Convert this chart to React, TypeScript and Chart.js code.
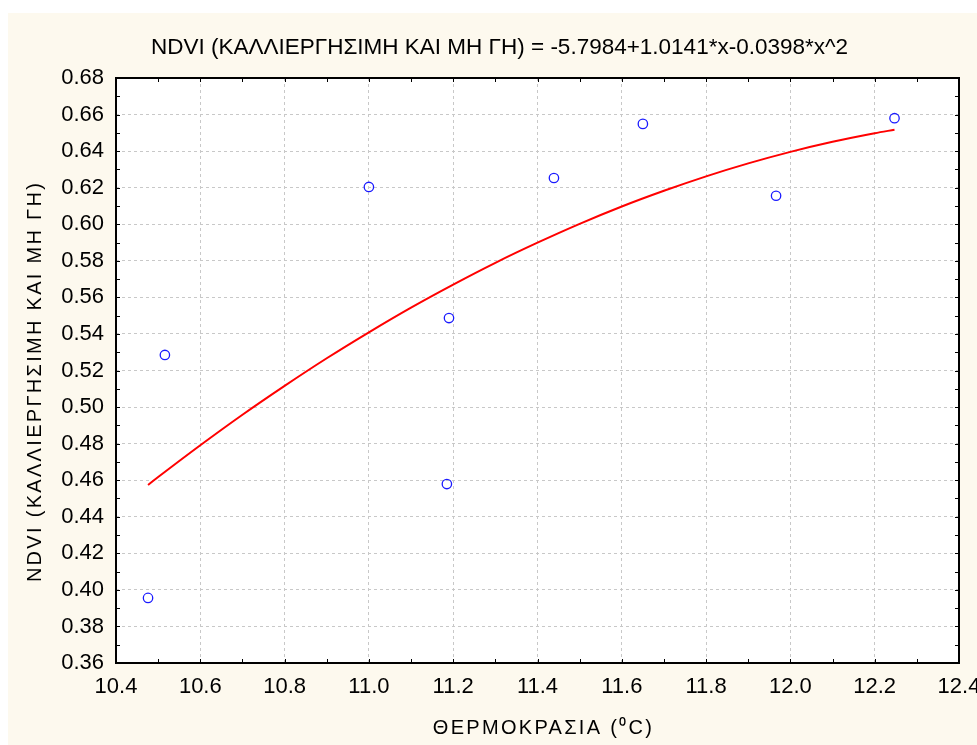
import React, { useEffect, useRef } from "react";
import { Chart, registerables } from "chart.js";

Chart.register(...registerables);

// Observed data (temperature °C vs NDVI)
const tempX = [10.476, 10.516, 11.0, 11.19, 11.185, 11.439, 11.65, 11.966, 12.247];
const ndviY = [0.3956, 0.5285, 0.6204, 0.5487, 0.4579, 0.6253, 0.6549, 0.6156, 0.658];

// Fitted quadratic curve values at these x positions
const fitX = [10.476, 10.5, 10.6, 10.7, 10.8, 10.9, 11.0, 11.1, 11.2, 11.3, 11.4, 11.5, 11.6, 11.7, 11.8, 11.9, 12.0, 12.1, 12.2, 12.247];
const fitY = [0.4574, 0.4617, 0.4791, 0.4958, 0.5116, 0.5267, 0.5409, 0.5544, 0.567, 0.5789, 0.5899, 0.6002, 0.6097, 0.6183, 0.6262, 0.6333, 0.6396, 0.6451, 0.6498, 0.6517];

const titleText = "NDVI (ΚΑΛΛΙΕΡΓΗΣΙΜΗ ΚΑΙ ΜΗ ΓΗ) = -5.7984+1.0141*x-0.0398*x^2";
const xTitle = "ΘΕΡΜΟΚΡΑΣΙΑ (⁰C)";
const yTitle = "NDVI (ΚΑΛΛΙΕΡΓΗΣΙΜΗ ΚΑΙ ΜΗ ΓΗ)";

const xMin = 10.4, xMax = 12.4, xStep = 0.2;
const yMin = 0.36, yMax = 0.68, yStep = 0.02;

const FONT = "'Liberation Sans', Arial, sans-serif";

function patchDraw(obj: any, key: string, dx: number, dy: number, spacing: string) {
  if (!obj || obj["__p_" + key]) return;
  obj["__p_" + key] = true;
  const orig = obj[key];
  obj[key] = function (...args: any[]) {
    const ctx = this.ctx;
    ctx.save();
    (ctx as any).letterSpacing = spacing;
    ctx.translate(dx, dy);
    orig.apply(this, args);
    ctx.restore();
  };
}

const framePlugin = {
  id: "frame",
  beforeDraw(chart: any) {
    const { ctx, chartArea: a } = chart;
    patchDraw(chart.scales.x, "drawTitle", 6, 0, "2.3px");
    patchDraw(chart.scales.y, "drawTitle", 0, 11, "2.3px");
    patchDraw(chart.titleBlock, "draw", 16, 0, "0px");
    ctx.save();
    ctx.fillStyle = "#ffffff";
    ctx.fillRect(a.left, a.top, a.right - a.left, a.bottom - a.top);
    ctx.restore();
  },
  afterDraw(chart: any) {
    const { ctx, chartArea: a, scales } = chart;
    const xs = scales.x, ys = scales.y;
    ctx.save();
    ctx.strokeStyle = "#000";
    ctx.lineWidth = 1;
    const tl = 4;
    const nx = Math.round((xMax - xMin) / (xStep / 2));
    for (let i = 0; i <= nx; i++) {
      const px = Math.round(xs.getPixelForValue(xMin + (i * xStep) / 2)) + 0.5;
      ctx.beginPath();
      ctx.moveTo(px, a.bottom);
      ctx.lineTo(px, a.bottom - tl);
      ctx.moveTo(px, a.top);
      ctx.lineTo(px, a.top + tl);
      ctx.stroke();
    }
    const ny = Math.round((yMax - yMin) / (yStep / 2));
    for (let i = 0; i <= ny; i++) {
      const py = Math.round(ys.getPixelForValue(yMin + (i * yStep) / 2)) + 0.5;
      ctx.beginPath();
      ctx.moveTo(a.left, py);
      ctx.lineTo(a.left + tl, py);
      ctx.moveTo(a.right, py);
      ctx.lineTo(a.right - tl, py);
      ctx.stroke();
    }
    ctx.lineWidth = 2;
    ctx.strokeRect(a.left, a.top, a.right - a.left, a.bottom - a.top);
    ctx.restore();
  },
};

export default function App() {
  const ref = useRef<HTMLCanvasElement | null>(null);
  useEffect(() => {
    if (!ref.current) return;
    const chart = new Chart(ref.current, {
      type: "scatter",
      data: {
        datasets: [
          {
            type: "line",
            label: "fit",
            data: fitX.map((x, i) => ({ x, y: fitY[i] })),
            borderColor: "#ff0000",
            borderWidth: 2,
            pointRadius: 0,
            cubicInterpolationMode: "monotone",
            fill: false,
          } as any,
          {
            label: "obs",
            data: tempX.map((x, i) => ({ x, y: ndviY[i] })),
            borderColor: "#1a1aff",
            backgroundColor: "rgba(0,0,0,0)",
            borderWidth: 1.3,
            pointRadius: 4.7,
          },
        ],
      },
      options: {
        animation: false,
        responsive: false,
        devicePixelRatio: 1,
        layout: { padding: { left: 0, right: 18, top: 0, bottom: 0 } },
        plugins: {
          legend: { display: false },
          tooltip: { enabled: false },
          title: {
            display: true,
            text: titleText,
            color: "#000",
            font: { family: FONT, size: 22.5, weight: "normal" },
            padding: { top: 21.5, bottom: 16.5 },
          },
        },
        scales: {
          x: {
            type: "linear",
            min: xMin,
            max: xMax,
            afterFit: (s: any) => {
              s.height = 82;
              s.paddingRight = 0;
              s.paddingLeft = 0;
            },
            ticks: {
              stepSize: xStep,
              color: "#000",
              padding: 11,
              maxRotation: 0,
              autoSkip: false,
              font: { family: FONT, size: 22 },
              callback: (v: any) => Number(v).toFixed(1),
            },
            grid: { color: "#c8c8c8", drawTicks: false, lineWidth: 1 },
            border: { display: false, dash: [3, 3] },
            title: {
              display: true,
              text: xTitle,
              color: "#000",
              font: { family: FONT, size: 20 },
              padding: { top: 0, bottom: 4.8 },
            },
          },
          y: {
            type: "linear",
            min: yMin,
            max: yMax,
            afterFit: (s: any) => {
              s.width = 108;
            },
            ticks: {
              stepSize: yStep,
              color: "#000",
              padding: 12,
              autoSkip: false,
              font: { family: FONT, size: 22 },
              callback: (v: any) => Number(v).toFixed(2),
            },
            grid: { color: "#c8c8c8", drawTicks: false, lineWidth: 1 },
            border: { display: false, dash: [3, 3] },
            title: {
              display: true,
              text: yTitle,
              color: "#000",
              font: { family: FONT, size: 20 },
              padding: { top: 15, bottom: 0 },
            },
          },
        },
      },
      plugins: [framePlugin],
    } as any);
    return () => chart.destroy();
  }, []);

  return (
    <div
      style={{
        position: "absolute",
        left: 8,
        top: 13,
        width: 969,
        height: 732,
        background: "#fdf9ee",
      }}
    >
      <canvas ref={ref} width={969} height={732} style={{ display: "block" }} />
    </div>
  );
}
